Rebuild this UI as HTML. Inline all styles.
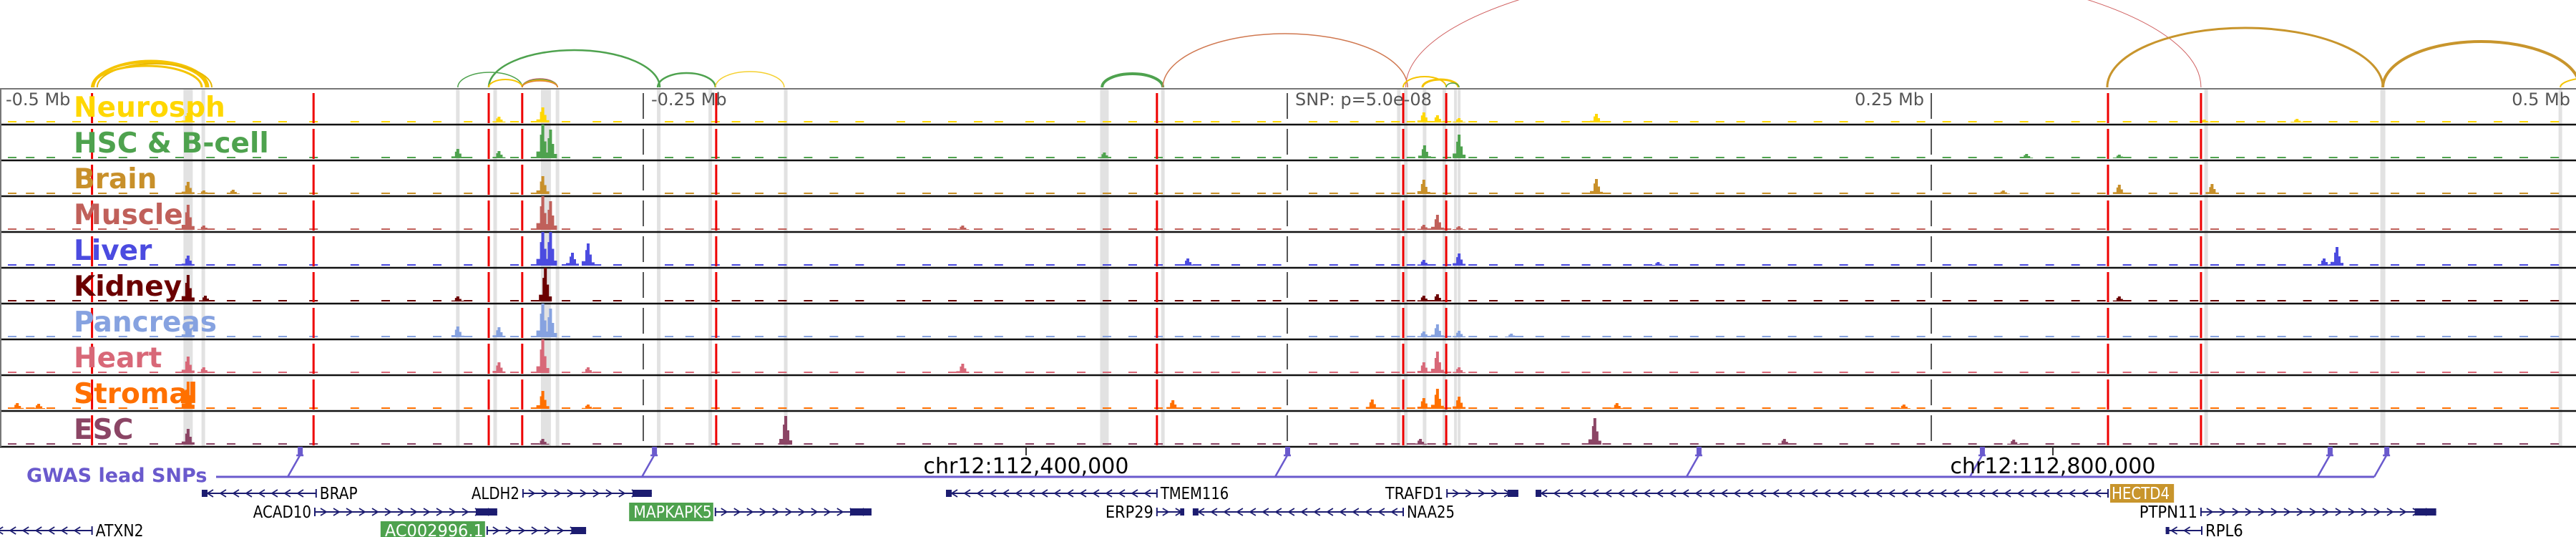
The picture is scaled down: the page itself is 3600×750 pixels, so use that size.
<!DOCTYPE html>
<html><head><meta charset="utf-8">
<style>
html,body{margin:0;padding:0;background:#fff;}
svg{display:block;}
text{font-family:"DejaVu Sans","Liberation Sans",sans-serif;}
</style></head>
<body>
<svg id="chart" xmlns="http://www.w3.org/2000/svg" width="3600" height="750" viewBox="0 0 3600 750">
<g id="arcs"></g>
<g id="bands"></g>
<g id="tracks"></g>
<g id="vlines"></g>
<g id="labels"></g>
<g id="gwas"></g>
<g id="genes"></g>
</svg>
<script>
// ---- data (positions in kb relative to lead SNP, values in signal units) ----
const trackNames = ["Neurosph","HSC & B-cell","Brain","Muscle","Liver","Kidney","Pancreas","Heart","Stromal","ESC"];
const trackColors = ["#ffd700","#4ea24e","#c8902a","#c0605a","#4b4be0","#6b0000","#86a2e0","#d86878","#ff7000","#8b4565"];
const peakPos = [
 [-426.7,-289,-306,53,58.3,66.7,120,356,392],
 [-289,-286,-322,-306,-71,53.3,66.7,287,323],
 [-426.7,-420.6,-409.2,-289,53,120,323,359,278],
 [-426.7,-420.6,-289,-286,-126,58.3,53,66.7],
 [-426.7,-289,-286,-277.5,-271.4,66.7,-38.6,407.5,402.5,53,144],
 [-426.7,-420,-288,-322,58.3,53,323],
 [-426.7,-289,-286,-322,-306,58.3,53,66.7,87],
 [-426.7,-420.6,-289,-306,-271.4,-126,53,58.3,66.7],
 [-426.7,-493,-484.7,-289,-271.4,-44.4,33,53,58.3,66.7,128,239.4],
 [-426.7,-194.7,-289,51.7,119.4,193,282]
];
const peakVal = [
 [13,21,8,14,10,6,12,4,5],
 [47,40,13,10,8,18,33,6,5],
 [17,5,6,25,20,21,13,14,5],
 [35,6,47,40,6,21,7,5],
 [14,47,47,18,31,17,10,26,10,8,5],
 [37,8,47,7,10,8,7],
 [20,47,40,15,14,18,8,9,5],
 [23,8,47,15,8,13,15,30,8],
 [38,8,7,25,6,12,13,15,28,17,8,6],
 [22,40,8,8,37,8,7]
];
const bgBins = [-495,-488,-480,-470,-460,-452,-440,-430,-418,-410,-400,-390,-378,-362,-350,-340,-330,-318,-300,-292,-280,-268,-260,-240,-232,-222,-214,-205,-196,-186,-176,-166,-150,-140,-130,-120,-112,-100,-92,-80,-70,-60,-50,-42,-35,-28,-20,-10,-4,10,18,26,36,42,48,56,62,72,80,90,98,108,116,124,132,140,150,158,168,176,186,196,206,216,226,236,246,256,266,276,286,296,306,316,326,336,344,352,360,370,378,386,396,406,414,422,430,440,450,460,470,480,492];
const bgVal = [2,2,2,2,2,2,2,2,2,2];
const snpPos = [-464,-378,-310,-297,-221.7,-50.6,45,61.7,318.6,354.7];
const tickPos = [-250,0,250];
const tickLabels = ["-0.5 Mb","-0.25 Mb","SNP: p=5.0e-08","0.25 Mb","0.5 Mb"];
const bandPos = [-426.7,-420.8,-322,-307.5,-287.8,-283.3,-244,-224,-194.7,-71,-48.3,43.3,46,53.3,61,65.3,66.7,356.7,425.3,494.2];
const bandW = [13,5,5,5,14,5,5,5,5,12,5,5,5,5,5,4,4,5,7,5];
const gwasPos = [-383.3,-245.8,0,159.7,269.7,404.7,426.7];
const coordLabels = ["chr12:112,400,000","chr12:112,800,000"];
const coordPos = [-101.4,297.2];
// arcs: start kb, end kb, height px
const arcStart = [-464,-463.4,-462,-464,-322,-310,-310,-297,-297,-297,-297,-244.4,-222,-71.9,-48.3,46,45,52.5,61.7,318.3,425.3,494.2];
const arcEnd = [-419.7,-418.9,-417.5,-421.4,-297,-243.6,-297,-283.3,-283.3,-283.3,-283.3,-222,-195.3,-48.3,46.7,354.7,61.7,66.4,66.7,425.3,501.7,521];
const arcH = [35,37,33,30,21,52,11,12,11,10,9,20,22,19,75,175,15,11,6,83,64,14];
const arcColor = ["#f5c400","#f5c400","#e8b800","#f5c400","#4ea24e","#4ea24e","#f5c400","#d06060","#4ea24e","#f5c400","#e08030","#4ea24e","#f5d030","#4ea24e","#d07850","#d06060","#f5c400","#f5c400","#4ea24e","#c8952c","#c8952c","#f5c400"];
const arcW = [3,3,2,3,1.5,2.5,2,1.5,1.5,1.5,1.5,2.5,1.5,4,1.5,1,2,3,1.5,3,4,2];
// genes
const geneNames = ["BRAP","ALDH2","TMEM116","TRAFD1","HECTD4","ACAD10","MAPKAPK5","ERP29","NAA25","PTPN11","ATXN2","AC002996.1","RPL6"];
const geneStart = [-421.4,-296.7,-132.5,62,96.4,-377.5,-222,-50.6,-36.7,354.7,-508,-310.6,341];
const geneEnd = [-377,-246.7,-50.6,89.7,318.6,-306.7,-161.4,-40,45,446,-464,-272.2,355];
const geneStrand = [-1,1,-1,1,-1,1,1,1,-1,1,-1,1,-1];
const geneRow = [0,0,0,0,0,1,1,1,1,1,2,2,2];
const geneBox = ["","","","","#c8952c","","#4ea24e","","","","","#4ea24e",""];

const NS="http://www.w3.org/2000/svg";
const X = kb => 1799 + kb*3.6;
const TOP=124, TH=50;
const rowY=[689,715,741];
function mk(tag, parent, attrs){const e=document.createElementNS(NS,tag);for(const k in attrs)e.setAttribute(k,attrs[k]);parent.appendChild(e);return e;}
const G=id=>document.getElementById(id);

// arcs
const arcs=G('arcs');
for(let i=0;i<arcStart.length;i++){
  const x1=X(arcStart[i]),x2=X(arcEnd[i]),rx=(x2-x1)/2;
  const p=mk('path',arcs,{d:`M${x1},122 A${rx},${arcH[i]} 0 0 1 ${x2},122`,fill:'none',stroke:arcColor[i],'stroke-width':arcW[i]});
  
  
}
// bands
const bands=G('bands');
for(let i=0;i<bandPos.length;i++){
  const r=mk('rect',bands,{x:X(bandPos[i])-bandW[i]/2,y:TOP,width:bandW[i],height:500,fill:'#e2e2e2'});
  
  
}
// tracks
const tracks=G('tracks');
for(let t=0;t<trackNames.length;t++){
  const base=TOP+(t+1)*TH-3;
  const g=mk('g',tracks,{fill:trackColors[t]});
  
  
  for(let b=0;b<bgBins.length;b++){
    const r=mk('rect',g,{x:X(bgBins[b])-6,y:base-bgVal[t],width:12,height:bgVal[t]});
    
    
  }
  for(let p=0;p<peakPos[t].length;p++){
    const cx=X(peakPos[t][p]),h=Math.min(peakVal[t][p],47);
    const path=`M${cx-9},${base} L${cx-9},${base-h*0.2} L${cx-4},${base-h*0.2} L${cx-4},${base-h*0.7} L${cx-2},${base-h*0.7} L${cx-2},${base-h} L${cx+2},${base-h} L${cx+2},${base-h*0.5} L${cx+5},${base-h*0.5} L${cx+5},${base-h*0.15} L${cx+9},${base-h*0.15} L${cx+9},${base} Z`;
    const e=mk('path',g,{d:path});
    
    
  }
  const l=mk('line',tracks,{x1:0,x2:3600,y1:TOP+(t+1)*TH,y2:TOP+(t+1)*TH,stroke:'#111','stroke-width':2.5});
  
  
}
const topL=mk('line',tracks,{x1:0,x2:3600,y1:TOP,y2:TOP,stroke:'#777','stroke-width':2});


const leftL=mk('line',tracks,{x1:1,x2:1,y1:TOP,y2:624,stroke:'#777','stroke-width':2});



// tick and snp lines
const vl=G('vlines');
for(let i=0;i<tickPos.length;i++){
  const l=mk('line',vl,{x1:X(tickPos[i]),x2:X(tickPos[i]),y1:TOP,y2:624,stroke:'#555','stroke-width':2,'stroke-dasharray':'36 14','stroke-dashoffset':'44'});
  
  
}
for(let i=0;i<snpPos.length;i++){
  const l=mk('line',vl,{x1:X(snpPos[i]),x2:X(snpPos[i]),y1:TOP,y2:624,stroke:'#ee0000','stroke-width':3,'stroke-dasharray':'42 8','stroke-dashoffset':'44'});
  
  
}
// labels
const lab=G('labels');
const tlx=[8,X(-250)+11,X(0)+11,X(250)-10,3592];
const tla=['start','start','start','end','end'];
for(let i=0;i<tickLabels.length;i++){
  const tx=mk('text',lab,{x:tlx[i],y:147,'font-size':24,fill:'#555','text-anchor':tla[i]});
  tx.textContent=tickLabels[i];
  
  
}
for(let t=0;t<trackNames.length;t++){
  const tx=mk('text',lab,{x:103,y:TOP+t*TH+39,'font-size':39,'font-weight':'bold',fill:trackColors[t]});
  tx.textContent=trackNames[t];
  
  
}
// gwas
const gw=G('gwas');
const gt=mk('text',gw,{x:37,y:673,'font-size':27,'font-weight':'bold',fill:'#6a5acd'});
gt.textContent='GWAS lead SNPs';


const gl=mk('line',gw,{x1:302,x2:X(gwasPos[gwasPos.length-1])-17,y1:666,y2:666,stroke:'#6a5acd','stroke-width':3});


for(let i=0;i<gwasPos.length;i++){
  const x=X(gwasPos[i]);
  const m=mk('rect',gw,{x:x-3,y:624,width:7,height:12,fill:'#6a5acd'});
  
  
  const s=mk('path',gw,{d:`M${x-5},636 L${x+5},636 M${x},636 L${x-17},666`,stroke:'#6a5acd','stroke-width':2.5,fill:'none'});
  
  
}
for(let i=0;i<coordLabels.length;i++){
  const x=X(coordPos[i]);
  const tk=mk('line',gw,{x1:x,x2:x,y1:624,y2:636,stroke:'#333','stroke-width':2});
  
  
  const tx=mk('text',gw,{x:x,y:661,'font-size':30,fill:'#000','text-anchor':'middle'});
  tx.textContent=coordLabels[i];
  
  
}
// genes
const gn=G('genes');
for(let i=0;i<geneNames.length;i++){
  const x1=X(geneStart[i]),x2=X(geneEnd[i]),y=rowY[geneRow[i]];
  const g=mk('g',gn,{});
  
  
  mk('line',g,{x1:x1,x2:x2,y1:y,y2:y,stroke:'#1c1c70','stroke-width':2});
  let d='';
  for(let cx=x1+12;cx<x2-6;cx+=18){
    if(geneStrand[i]>0) d+=`M${cx-4},${y-5} L${cx+4},${y} L${cx-4},${y+5} `;
    else d+=`M${cx+4},${y-5} L${cx-4},${y} L${cx+4},${y+5} `;
  }
  mk('path',g,{d:d,stroke:'#1c1c70','stroke-width':1.8,fill:'none'});
  if(geneStrand[i]>0){mk('rect',g,{x:x2-Math.min(30,(x2-x1)*0.15),y:y-5,width:Math.min(30,(x2-x1)*0.15),height:10,fill:'#1c1c70'});mk('line',g,{x1:x1,x2:x1,y1:y-6,y2:y+6,stroke:'#1c1c70','stroke-width':2});}
  else {mk('rect',g,{x:x1,y:y-5,width:Math.min(8,(x2-x1)*0.1),height:10,fill:'#1c1c70'});mk('line',g,{x1:x2,x2:x2,y1:y-6,y2:y+6,stroke:'#1c1c70','stroke-width':2});}
  const left=geneStrand[i]>0;
  const tx=left?x1-3:x2+3;
  const w=geneNames[i].length*14.2;
  if(geneBox[i]){
    const bx=left?tx-w-4:tx;
    mk('rect',g,{x:bx,y:y-13,width:w+4,height:26,fill:geneBox[i]});
  }
  const t=mk('text',g,{x:left?tx-2:tx+2,y:y+8,'font-size':23,fill:geneBox[i]?'#fff':'#000','text-anchor':left?'end':'start',textLength:w-4,lengthAdjust:'spacingAndGlyphs'});
  t.textContent=geneNames[i];
}
</script>
</body></html>
